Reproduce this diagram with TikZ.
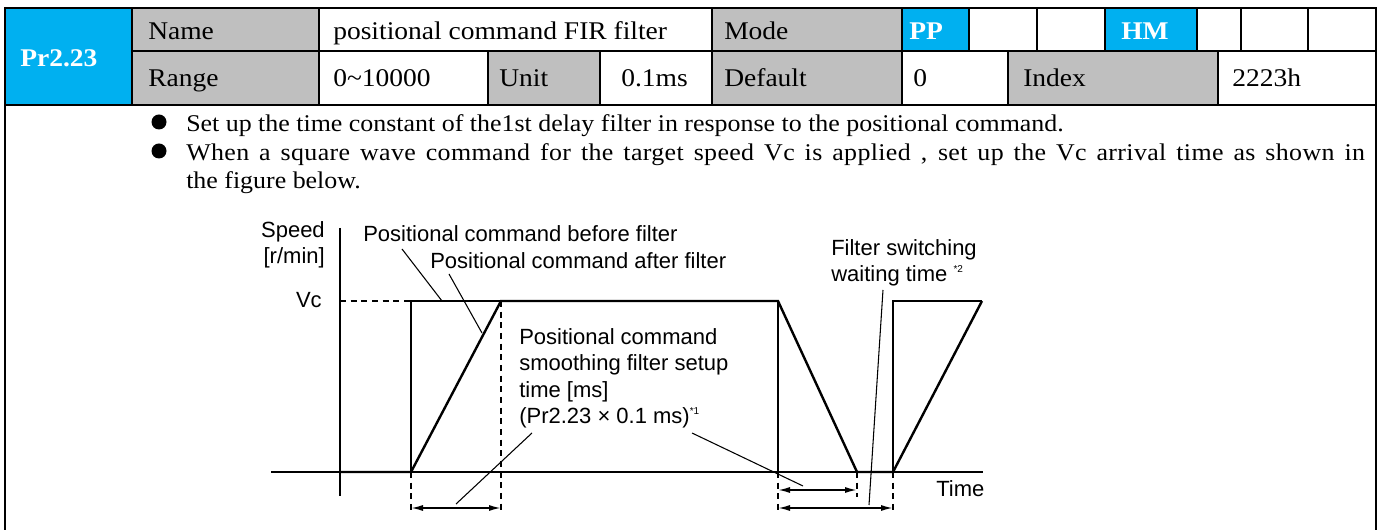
\documentclass[tikz,border=0pt]{standalone}
\usepackage{fontspec}
\setmainfont{Liberation Serif}[FakeStretch=1.08]
\newfontfamily\figfont{Liberation Sans}
\usetikzlibrary{arrows.meta}

\definecolor{prblue}{RGB}{0,176,240}
\definecolor{cellgray}{RGB}{191,191,191}

\tikzset{
    gridline/.style={line width=1.5pt},
    celltext/.style={font=\fontsize{19.1}{22}\selectfont, anchor=base west, inner sep=0pt},
    hdtext/.style={font=\fontsize{19.1}{22}\selectfont\bfseries, text=white, anchor=base west, inner sep=0pt},
    bodytext/.style={font=\fontsize{18}{21.5}\selectfont, anchor=base west, inner sep=0pt, align=left},
    figtext/.style={font=\figfont\fontsize{16.5}{19.9}\selectfont, inner sep=0pt},
    sigline/.style={line width=1.8pt, line join=miter},
    sqline/.style={line width=1.2pt},
    axisline/.style={line width=1pt},
    guideline/.style={line width=1pt, dash pattern=on 4.5pt off 3.5pt},
    leaderline/.style={line width=0.8pt},
    dimarrow/.style={line width=1.2pt, {Latex[length=9pt,width=4.5pt]}-{Latex[length=9pt,width=4.5pt]}},
}

\newcommand{\note}[1]{\raisebox{0.8ex}{\fontsize{7.5}{7.5}\selectfont #1}}

\begin{document}
\begin{tikzpicture}[x=0.75pt, y=-0.75pt]
    \useasboundingbox (0,0) rectangle (1393,530);

    % table cells
    \fill[prblue] (5,8) rectangle (132,105);
    \fill[cellgray] (132,8) rectangle (319,105);
    \fill[cellgray] (488,51) rectangle (600,105);
    \fill[cellgray] (712,8) rectangle (902,105);
    \fill[prblue] (902,8) rectangle (969,51);
    \fill[prblue] (1105,8) rectangle (1197,51);
    \fill[cellgray] (1008,51) rectangle (1218,105);

    % table rules
    \draw[gridline] (5,530) -- (5,8) -- (1376,8) -- (1376,530);
    \draw[gridline] (132,51) -- (1376,51);
    \draw[gridline] (5,105) -- (1376,105);
    \foreach \x in {132,319,712,902}
        \draw[gridline] (\x,8) -- (\x,105);
    \foreach \x in {969,1037,1105,1197,1241,1308}
        \draw[gridline] (\x,8) -- (\x,51);
    \foreach \x in {488,600,1008,1218}
        \draw[gridline] (\x,51) -- (\x,105);

    \node[hdtext] (pr) at (20,67) {Pr2.23};
    \node[celltext] (name) at (148,40) {Name};
    \node[celltext] (namev) at (333,40) {positional command FIR filter};
    \node[celltext] (mode) at (724,40) {Mode};
    \node[hdtext] (pp) at (909,40) {PP};
    \node[hdtext] (hm) at (1121,40) {HM};
    \node[celltext] (range) at (148,87) {Range};
    \node[celltext] (rangev) at (333,87) {0\textasciitilde10000};
    \node[celltext] (unit) at (499,87) {Unit};
    \node[celltext] (unitv) at (621,87) {0.1ms};
    \node[celltext] (default) at (724,87) {Default};
    \node[celltext] (defaultv) at (913,87) {0};
    \node[celltext] (index) at (1023,87) {Index};
    \node[celltext] (indexv) at (1232,87) {2223h};

    % description
    \fill (159,122) circle[radius=7.5];
    \fill (159,151) circle[radius=7.5];
    \node[bodytext] (line1) at (186,132) {Set up the time constant of the1st delay filter in response to the positional command.};
    \node[bodytext] (line2) at (186,161) {\addfontfeature{LetterSpace=1.5}\hbox to 884pt{When a square wave command for the target speed Vc is applied , set up the Vc arrival time as shown in}};
    \node[bodytext] (line3) at (186,189) {the figure below.};

    % speed diagram
    \coordinate (o) at (340,472);
    \coordinate (up1) at (411,472);
    \coordinate (top1) at (411,301);
    \coordinate (reach) at (501,301);
    \coordinate (fall) at (778,301);
    \coordinate (down1) at (778,472);
    \coordinate (stop) at (857,472);
    \coordinate (up2) at (893,472);
    \coordinate (top2) at (893,301);
    \coordinate (reach2) at (982,301);

    \draw[axisline] (271,472) -- (983,472);
    \draw[axisline] (340,228) -- (340,496);

    \draw[guideline] (o |- top1) -- (top1);
    \draw[guideline] (reach) -- (501,513);
    \draw[guideline] (up1) -- (411,513);
    \draw[guideline] (down1) -- (778,513);
    \draw[guideline] (stop) -- (857,497);
    \draw[guideline] (up2) -- (893,513);

    \draw[sqline] (up1) -- (top1) -- (reach);
    \draw[sqline] (fall) -- (down1);
    \draw[sqline] (up2) -- (top2) -- (reach2);
    \draw[sigline] (o) -- (up1) -- (reach) -- (fall) -- (stop) -- (up2) -- (reach2);

    \coordinate (d1a) at (411,508);
    \coordinate (d1b) at (501,508);
    \coordinate (d2a) at (778,490);
    \coordinate (d2b) at (857,490);
    \coordinate (d3a) at (778,508);
    \coordinate (d3b) at (893,508);
    \draw[dimarrow] (d1a) -- (d1b);
    \draw[dimarrow] (d2a) -- (d2b);
    \draw[dimarrow] (d3a) -- (d3b);

    \node[figtext, anchor=north east, align=right] (speed) at (325,221) {Speed\\{}[r/min]};
    \node[figtext, anchor=base east] (vc) at (322,308) {Vc};
    \node[figtext, anchor=base west] (before) at (363,242) {Positional command before filter};
    \node[figtext, anchor=base west] (after) at (430,269) {Positional command after filter};
    \node[figtext, anchor=north west, align=left] (setup) at (519,328) {Positional command\\smoothing filter setup\\time [ms]\\(Pr2.23 × 0.1 ms)\note{*1}};
    \node[figtext, anchor=north west, align=left] (waiting) at (831,239) {Filter switching\\waiting time \note{*2}};
    \node[figtext, anchor=base west] (time) at (936,497) {Time};

    % leader lines
    \coordinate (l1a) at (402,249);
    \coordinate (l1b) at (442,301);
    \coordinate (l2a) at (449,274);
    \coordinate (l2b) at (482,333);
    \coordinate (l3a) at (532,433);
    \coordinate (l3b) at (456,504);
    \coordinate (l4a) at (692,433);
    \coordinate (l4b) at (803,486);
    \coordinate (l5a) at (883,290);
    \coordinate (l5b) at (869,505);
    \draw[leaderline] (l1a) -- (l1b);
    \draw[leaderline] (l2a) -- (l2b);
    \draw[leaderline] (l3a) -- (l3b);
    \draw[leaderline] (l4a) -- (l4b);
    \draw[leaderline] (l5a) -- (l5b);
\end{tikzpicture}
\end{document}
